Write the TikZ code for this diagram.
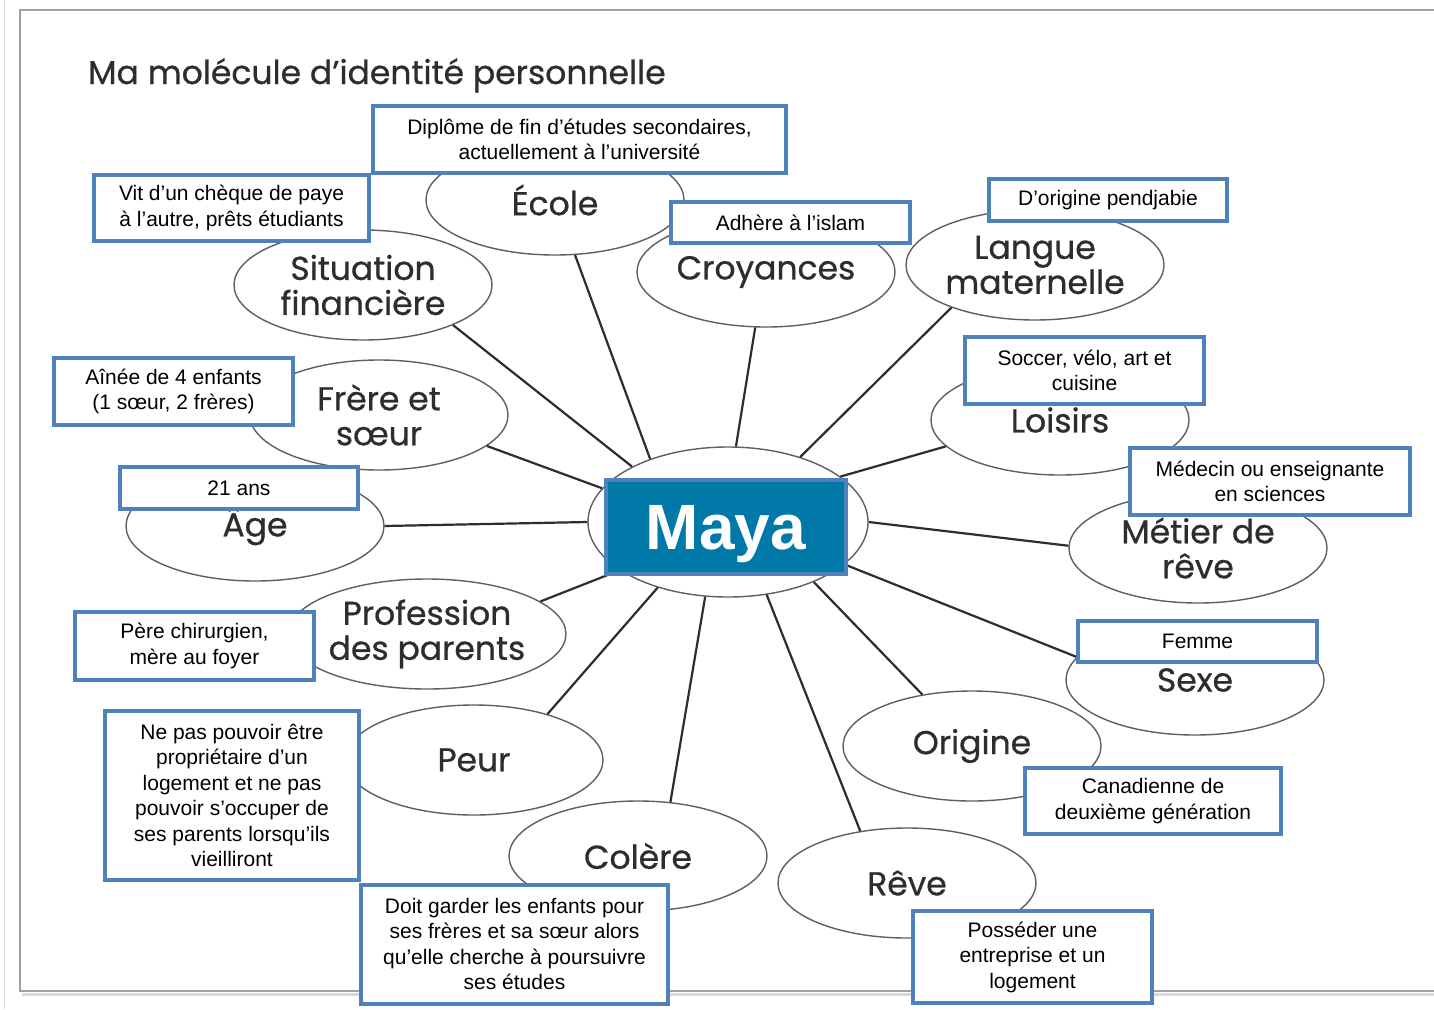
\documentclass[tikz,border=0pt]{standalone}
\usepackage{fontspec}
\setmainfont{Liberation Sans}
\newfontfamily\comicf{Poppins}[FakeBold=0.7]
\usetikzlibrary{shapes.geometric}
\definecolor{boxblue}{RGB}{79,129,189}
\definecolor{mayablue}{RGB}{0,120,168}
\definecolor{inkgray}{RGB}{45,45,45}
\definecolor{ellgray}{RGB}{95,95,95}
\definecolor{framegray}{RGB}{160,160,160}
\begin{document}
\begin{tikzpicture}[x=1pt,y=-1pt,
  ell/.style={ellipse, draw=ellgray, line width=1.4pt, fill=white,
    minimum width=258pt, minimum height=110pt, inner sep=0pt, align=center,
    text=inkgray, font=\comicf\fontsize{33}{35}\selectfont},
  lbl/.style={rectangle, draw=boxblue, line width=4pt, fill=white, inner sep=0pt,
    align=center, text=black, font=\fontsize{21}{25.5}\selectfont},
  link/.style={draw=inkgray, line width=2.2pt}]
\useasboundingbox (0,0) rectangle (1434,1009);
\fill[white] (0,0) rectangle (1434,1009);
% frame
\draw[framegray!40, line width=3pt] (22,994) -- (1434,994);
\draw[framegray, line width=2pt] (1440,10) -- (20,10) -- (20,991) -- (1440,991);
\draw[framegray!40, line width=1pt] (4,0) -- (4,1009);
% title
\node[anchor=base west, text=inkgray, font=\comicf\fontsize{33}{36}\selectfont, inner sep=0pt]
  (title) at (88,84) {Ma molécule d’identité personnelle};
% ellipses
\node[ell] (ecole) at (555,200) {École};
\node[ell] (sitfin) at (363,285) {Situation\\financière};
\node[ell] (croy) at (766,272) {Croyances};
\node[ell] (langue) at (1035,265) {Langue\\maternelle};
\node[ell] (frere) at (379,415) {Frère et\\sœur};
\node[ell] (loisirs) at (1060,420) {Loisirs};
\node[ell] (age) at (255,526) {Âge};
\node[ell] (metier) at (1198,548) {Métier de\\rêve};
\node[ell] (prof) at (427,634) {Profession\\des parents};
\node[ell] (sexe) at (1195,680) {Sexe};
\node[ell] (peur) at (474,760) {Peur};
\node[ell] (origine) at (972,746) {Origine};
\node[ell] (colere) at (638,856) {Colère};
\node[ell] (reve) at (907,883) {Rêve};
\node[ellipse, draw=ellgray, line width=1.4pt, fill=white, minimum width=280pt,
  minimum height=150pt, inner sep=0pt] (hub) at (728,522) {};
% connectors
\draw[link] (hub.141) -- (ecole.290);
\draw[link] (hub.150) -- (sitfin.336);
\draw[link] (hub.84) -- (croy.259);
\draw[link] (hub.42) -- (langue.207);
\draw[link] (hub.165) -- (frere.344);
\draw[link] (hub.22) -- (loisirs.193);
\draw[link] (hub.180) -- (age.0);
\draw[link] (hub.0) -- (metier.179);
\draw[link] (hub.204) -- (prof.16);
\draw[link] (hub.340) -- (sexe.169);
\draw[link] (hub.223) -- (peur.32);
\draw[link] (hub.325) -- (origine.134);
\draw[link] (hub.253) -- (colere.59);
\draw[link] (hub.298) -- (reve.132);
% centre box
\node[rectangle, draw=boxblue, line width=4pt, fill=mayablue, text=white,
  minimum width=240pt, minimum height=94pt, inner sep=0pt, text depth=0pt,
  font=\bfseries\fontsize{64}{70}\selectfont] (maya) at (726,527) {Maya};
% labels
\node[lbl, minimum width=413pt, minimum height=67pt] (diplome) at (579.5,139.5)
  {Diplôme de fin d’études secondaires,\\actuellement à l’université};
\node[lbl, minimum width=275pt, minimum height=66pt] (cheque) at (231.5,208)
  {Vit d’un chèque de paye\\à l’autre, prêts étudiants};
\node[lbl, minimum width=239pt, minimum height=41pt] (islam) at (790.5,222.5)
  {Adhère à l’islam};
\node[lbl, minimum width=238pt, minimum height=42pt] (pendj) at (1108,200)
  {D’origine pendjabie};
\node[lbl, minimum width=239pt, minimum height=67pt] (soccer) at (1084.5,370.5)
  {Soccer, vélo, art et\\cuisine};
\node[lbl, minimum width=239pt, minimum height=67pt] (ainee) at (173.5,391.5)
  {Aînée de 4 enfants\\(1 sœur, 2 frères)};
\node[lbl, minimum width=238pt, minimum height=42pt] (ans) at (239,488)
  {21 ans};
\node[lbl, minimum width=280pt, minimum height=67pt] (medecin) at (1270,481.5)
  {Médecin ou enseignante\\en sciences};
\node[lbl, minimum width=239pt, minimum height=68pt] (pere) at (194.5,646)
  {Père chirurgien,\\mère au foyer};
\node[lbl, minimum width=239pt, minimum height=41pt] (femme) at (1197.5,641.5)
  {Femme};
\node[lbl, minimum width=254pt, minimum height=169pt] (nepas) at (232,795.5)
  {Ne pas pouvoir être\\propriétaire d’un\\logement et ne pas\\pouvoir s’occuper de\\ses parents lorsqu’ils\\vieilliront};
\node[lbl, minimum width=256pt, minimum height=66pt] (canad) at (1153,801)
  {Canadienne de\\deuxième génération};
\node[lbl, minimum width=307pt, minimum height=119pt] (doit) at (514.5,944)
  {Doit garder les enfants pour\\ses frères et sa sœur alors\\qu’elle cherche à poursuivre\\ses études};
\node[lbl, minimum width=239pt, minimum height=92pt] (posseder) at (1032.5,957)
  {Posséder une\\entreprise et un\\logement};
\end{tikzpicture}
\end{document}
